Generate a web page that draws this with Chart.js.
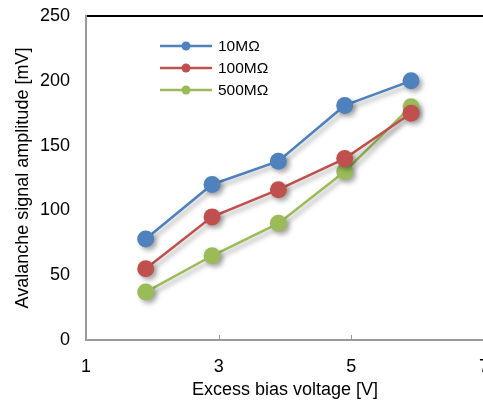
<!DOCTYPE html>
<html>
<head>
<meta charset="utf-8">
<script src="https://cdn.jsdelivr.net/npm/chart.js@4/dist/chart.umd.min.js"></script>
<style>
  html, body { margin: 0; padding: 0; background: #fff; overflow: hidden; }
  #wrap { width: 500px; height: 401px; }
</style>
</head>
<body>
<div id="wrap"><canvas id="grafico" width="500" height="401"></canvas></div>
<script>
// dados
const tensoes = [1.9, 2.9, 3.9, 4.9, 5.9]
const serie10M = [78, 120, 138, 181, 200]
const serie100M = [55, 95, 116, 140, 175]
const serie500M = [37, 65, 90, 130, 180]
const nomes = ['10MΩ', '100MΩ', '500MΩ']
const cores = ['#4F81BD', '#C0504D', '#9BBB59']
const xTicks = [1, 3, 5, 7]

const fonte = "'Liberation Sans', Arial, sans-serif"

const pontos = (ys) => ys.map((y, i) => ({ x: tensoes[i], y: y }))

const dataset = (i, ys) => ({
    label: nomes[i],
    data: pontos(ys),
    borderColor: cores[i],
    backgroundColor: cores[i],
    borderWidth: 2.5,
    pointRadius: 8.5,
    pointHoverRadius: 8.5,
    pointBorderWidth: 0,
    tension: 0
})

// sombra nas séries
const sombra = {
    id: 'sombra',
    beforeDatasetsDraw(chart) {
        const ctx = chart.ctx
        ctx.save()
        ctx.shadowColor = 'rgba(0,0,0,0.35)'
        ctx.shadowBlur = 5
        ctx.shadowOffsetX = 3
        ctx.shadowOffsetY = 3
    },
    afterDatasetsDraw(chart) {
        chart.ctx.restore()
    }
}

// marcas do eixo x viradas para dentro + legenda
const extras = {
    id: 'extras',
    afterDraw(chart) {
        const ctx = chart.ctx
        const x = chart.scales.x
        const area = chart.chartArea
        ctx.save()
        ctx.strokeStyle = '#999'
        ctx.lineWidth = 1
        x.ticks.forEach(t => {
            if (t.value === 1 || t.value === 7) return
            const px = Math.round(x.getPixelForValue(t.value)) + 0.5
            ctx.beginPath()
            ctx.moveTo(px, area.bottom)
            ctx.lineTo(px, area.bottom - 5)
            ctx.stroke()
        })

        // legenda
        ctx.font = '15.5px ' + fonte
        ctx.textBaseline = 'middle'
        nomes.forEach((nome, i) => {
            const y = 46 + i * 22
            ctx.strokeStyle = cores[i]
            ctx.lineWidth = 2.5
            ctx.beginPath()
            ctx.moveTo(160, y)
            ctx.lineTo(212, y)
            ctx.stroke()
            ctx.fillStyle = cores[i]
            ctx.beginPath()
            ctx.arc(186, y, 4.5, 0, Math.PI * 2)
            ctx.fill()
            ctx.fillStyle = '#000'
            ctx.fillText(nome, 218, y + 1)
        })
        ctx.restore()
    }
}

const config = {
    type: 'line',
    data: {
        datasets: [
            dataset(0, serie10M),
            dataset(1, serie100M),
            dataset(2, serie500M)
        ]
    },
    options: {
        responsive: false,
        animation: false,
        layout: { padding: { top: 16, right: 16, bottom: 0, left: 0 } },
        plugins: {
            legend: { display: false },
            tooltip: { enabled: false }
        },
        scales: {
            x: {
                type: 'linear',
                min: 1,
                max: 7,
                afterBuildTicks: (s) => { s.ticks = xTicks.map(v => ({ value: v })) },
                afterFit: (s) => { s.height = 61; s.paddingLeft = 0; s.paddingRight = 0 },
                grid: { display: false, drawTicks: false },
                border: { color: '#999', width: 2 },
                ticks: { color: '#000', font: { family: fonte, size: 18 }, padding: 16 },
                title: {
                    display: true,
                    text: 'Excess bias voltage [V]',
                    color: '#000',
                    font: { family: fonte, size: 18 },
                    padding: { top: 6, bottom: 0 }
                }
            },
            y: {
                min: 0,
                max: 250,
                afterFit: (s) => { s.width = 86; s.paddingTop = 0; s.paddingBottom = 0 },
                ticks: { stepSize: 50, color: '#000', font: { family: fonte, size: 18 }, padding: 16 },
                grid: {
                    drawTicks: false,
                    lineWidth: 2,
                    color: (c) => c.tick && c.tick.value === 250 ? '#000' : 'transparent'
                },
                border: { color: '#999', width: 2 },
                title: {
                    display: true,
                    text: 'Avalanche signal amplitude [mV]',
                    color: '#000',
                    font: { family: fonte, size: 18 },
                    padding: { top: 12, bottom: 0 }
                }
            }
        }
    },
    plugins: [sombra, extras]
}

new Chart(document.getElementById('grafico'), config)
</script>
</body>
</html>
